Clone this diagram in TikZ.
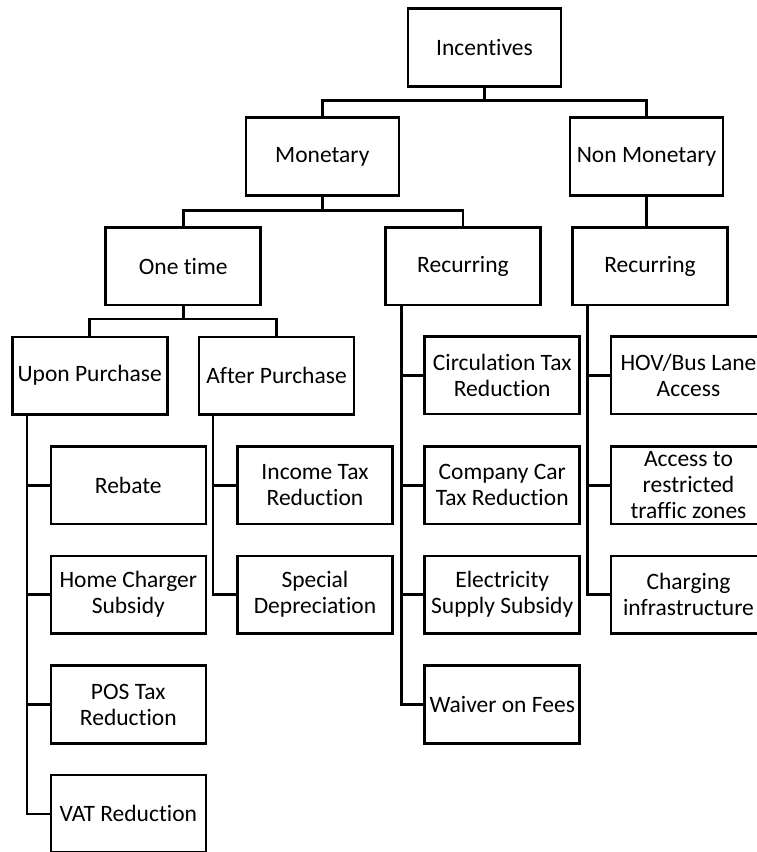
\documentclass[tikz,border=0pt]{standalone}
\usepackage{fontspec}
\setmainfont{Carlito}[Ligatures=NoCommon]
\tikzset{
  box/.style={draw=black, line width=2.6pt, minimum width=155pt, minimum height=77.5pt,
    inner sep=0pt, align=center, font=\fontsize{23.5}{26}\selectfont},
  conn/.style={draw=black, line width=2.6pt}
}
\begin{document}
\begin{tikzpicture}[x=1pt,y=-1pt]
\useasboundingbox (0,0) rectangle (757,852);
% level 0-2
\node[box, minimum width=153pt] (inc) at (484.5,47.5) {Incentives};
\node[box, minimum width=153pt] (mon) at (322.3,156.5) {Monetary};
\node[box, minimum width=153pt] (non) at (646.5,156.5) {Non Monetary};
\node[box] (one) at (183.2,266.3) {One time};
\node[box] (rec1) at (463,266.3) {Recurring};
\node[box] (rec2) at (650,266.3) {Recurring};
% level 3
\node[box] (upon) at (89.7,375.7) {Upon Purchase};
\node[box] (after) at (276.5,375.7) {After Purchase};
\node[box] (circ) at (502.2,375.4) {Circulation Tax\\Reduction};
\node[box] (hov) at (688.5,375.4) {HOV/Bus Lane\\Access};
% leaves
\node[box] (rebate) at (128.3,485.3) {Rebate};
\node[box] (home) at (128.3,594.7) {Home Charger\\Subsidy};
\node[box] (pos) at (128.3,704.5) {POS Tax\\Reduction};
\node[box] (vat) at (128.3,813.8) {VAT Reduction};
\node[box] (income) at (315,485.3) {Income Tax\\Reduction};
\node[box] (special) at (315,594.7) {Special\\Depreciation};
\node[box] (company) at (502.2,485.3) {Company Car\\Tax Reduction};
\node[box] (elec) at (502.2,594.7) {Electricity\\Supply Subsidy};
\node[box] (waiver) at (502.2,704.5) {Waiver on Fees};
\node[box] (access) at (688.5,485.3) {Access to\\restricted\\traffic zones};
\node[box] (charging) at (688.5,594.7) {Charging\\infrastructure};
% connectors: top
\draw[conn] (mon.north) -- ++(0,-16) coordinate (b0) -| (non.north);
\draw[conn] (inc.south) -- (inc.south |- b0);
\draw[conn] (one.north) -- ++(0,-16) coordinate (b1) -| (rec1.north);
\draw[conn] (mon.south) -- (mon.south |- b1);
\draw[conn] (non.south) -- (non.south |- rec2.north);
\draw[conn] (upon.north) -- ++(0,-16.5) coordinate (b2) -| (after.north);
\draw[conn] (one.south) -- (one.south |- b2);
% trunks
\coordinate (t1) at ([xshift=16pt]upon.south west);
\draw[conn] (t1) |- (vat.west);
\draw[conn] (t1 |- rebate.west) -- (rebate.west);
\draw[conn] (t1 |- home.west) -- (home.west);
\draw[conn] (t1 |- pos.west) -- (pos.west);
\coordinate (t2) at ([xshift=15.3pt]after.south west);
\draw[conn] (t2) |- (special.west);
\draw[conn] (t2 |- income.west) -- (income.west);
\coordinate (t3) at ([xshift=17pt]rec1.south west);
\draw[conn] (t3) |- (waiver.west);
\draw[conn] (t3 |- circ.west) -- (circ.west);
\draw[conn] (t3 |- company.west) -- (company.west);
\draw[conn] (t3 |- elec.west) -- (elec.west);
\coordinate (t4) at ([xshift=16.3pt]rec2.south west);
\draw[conn] (t4) |- (charging.west);
\draw[conn] (t4 |- hov.west) -- (hov.west);
\draw[conn] (t4 |- access.west) -- (access.west);
\end{tikzpicture}
\end{document}
